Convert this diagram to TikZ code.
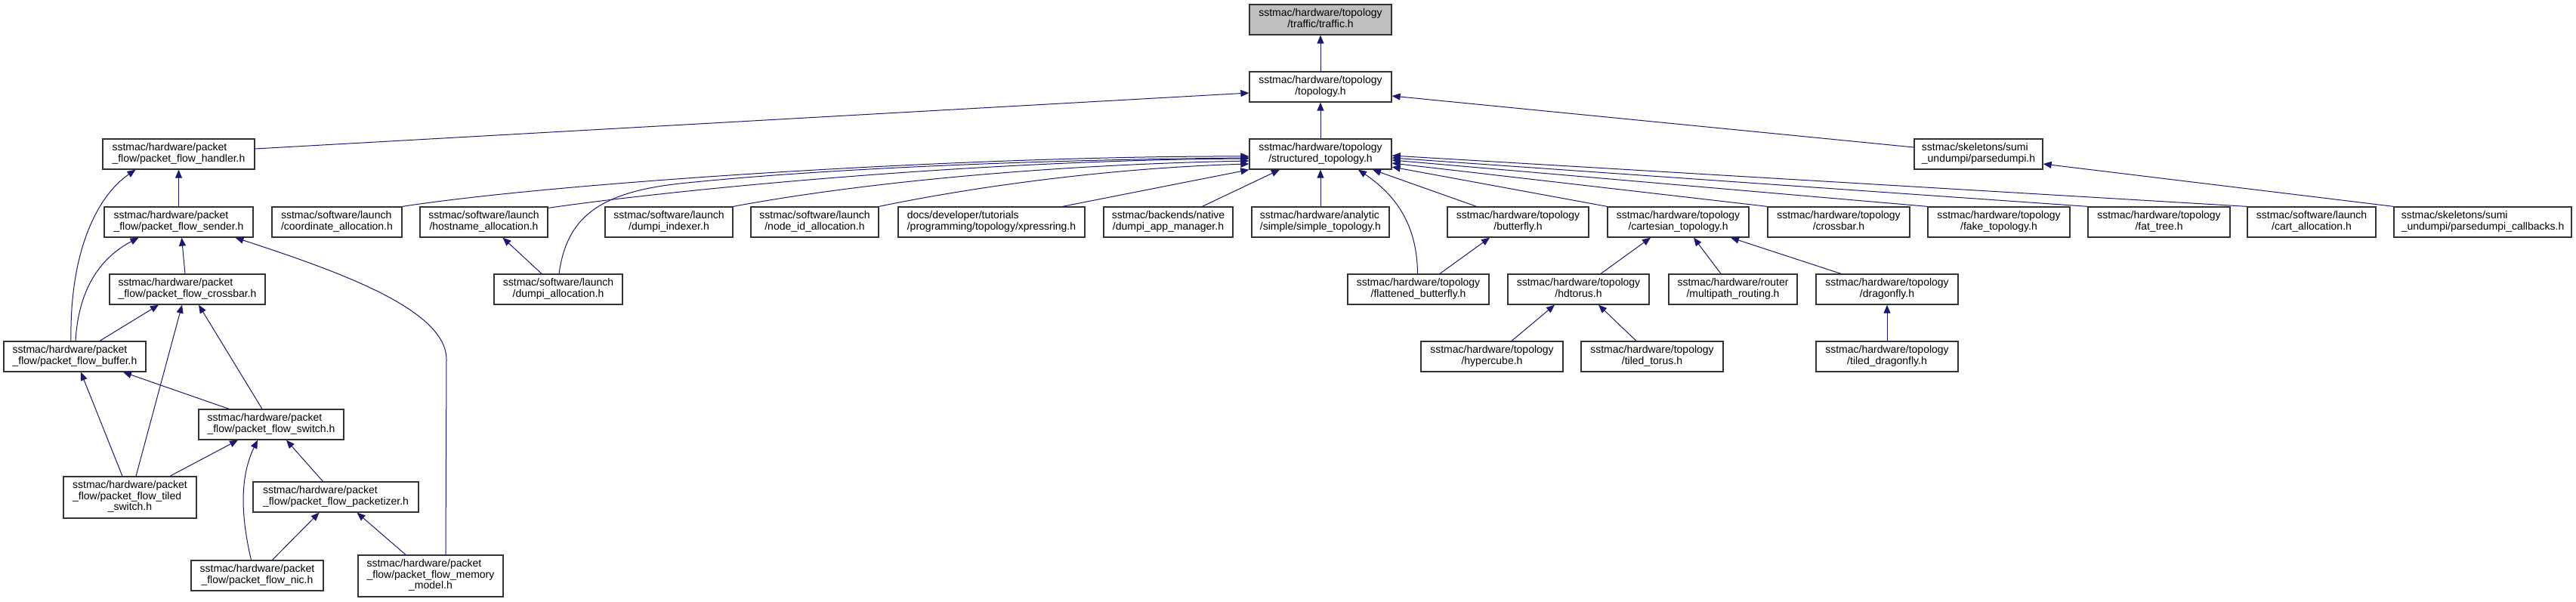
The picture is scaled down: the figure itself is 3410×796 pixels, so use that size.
\documentclass[tikz,border=0pt]{standalone}
\usepackage{fontspec}
\setmainfont{Liberation Sans}
\usepackage{tikz}
\usetikzlibrary{arrows.meta}
\definecolor{EdgeBlue}{HTML}{191970}
\definecolor{BoxLine}{HTML}{333333}
\definecolor{FocusGray}{HTML}{BFBFBF}
\newcommand{\twoline}[2]{\begin{tabular}{@{}l@{}}#1\\\multicolumn{1}{@{}c@{}}{#2}\end{tabular}}
\newcommand{\threeline}[3]{\begin{tabular}{@{}l@{}}#1\\#2\\\multicolumn{1}{@{}c@{}}{#3}\end{tabular}}

\begin{document}
\begin{tikzpicture}[x=1pt, y=-1pt,
  file/.style={draw=BoxLine, line width=1.3pt, fill=white, inner sep=0pt, minimum height=40,
    font=\fontsize{14}{14.5}\selectfont},
  inc/.style={draw=EdgeBlue, line width=1pt, -{Triangle[length=11pt,width=9pt]}}]
  \useasboundingbox (0,0) rectangle (3410,796);
  % top of the graph
  \node[file, fill=FocusGray, minimum width=188] (traffic) at (1748,26) {\twoline{sstmac/hardware/topology}{/traffic/traffic.h}};
  \node[file, minimum width=188] (topology) at (1748,115) {\twoline{sstmac/hardware/topology}{/topology.h}};
  \node[file, minimum width=188] (structured) at (1748,204) {\twoline{sstmac/hardware/topology}{/structured\_topology.h}};
  \node[file, minimum width=201] (handler) at (236.5,204) {\twoline{sstmac/hardware/packet}{\_flow/packet\_flow\_handler.h}};
  \node[file, minimum width=170] (parsedumpi) at (2619,204) {\twoline{sstmac/skeletons/sumi}{\_undumpi/parsedumpi.h}};
  % row 3
  \node[file, minimum width=197] (sender) at (236.5,294) {\twoline{sstmac/hardware/packet}{\_flow/packet\_flow\_sender.h}};
  \node[file, minimum width=172] (coordalloc) at (446,294) {\twoline{sstmac/software/launch}{/coordinate\_allocation.h}};
  \node[file, minimum width=169] (hostalloc) at (640.5,294) {\twoline{sstmac/software/launch}{/hostname\_allocation.h}};
  \node[file, minimum width=169] (indexer) at (885.5,294) {\twoline{sstmac/software/launch}{/dumpi\_indexer.h}};
  \node[file, minimum width=169] (nodeid) at (1078.5,294) {\twoline{sstmac/software/launch}{/node\_id\_allocation.h}};
  \node[file, minimum width=247] (xpressring) at (1312.5,294) {\twoline{docs/developer/tutorials}{/programming/topology/xpressring.h}};
  \node[file, minimum width=171] (appmanager) at (1546.5,294) {\twoline{sstmac/backends/native}{/dumpi\_app\_manager.h}};
  \node[file, minimum width=182] (simpletopo) at (1748,294) {\twoline{sstmac/hardware/analytic}{/simple/simple\_topology.h}};
  \node[file, minimum width=187] (butterfly) at (2009.5,294) {\twoline{sstmac/hardware/topology}{/butterfly.h}};
  \node[file, minimum width=187] (cartesian) at (2221.5,294) {\twoline{sstmac/hardware/topology}{/cartesian\_topology.h}};
  \node[file, minimum width=188] (crossbartopo) at (2434,294) {\twoline{sstmac/hardware/topology}{/crossbar.h}};
  \node[file, minimum width=188] (faketopo) at (2646,294) {\twoline{sstmac/hardware/topology}{/fake\_topology.h}};
  \node[file, minimum width=188] (fattree) at (2858,294) {\twoline{sstmac/hardware/topology}{/fat\_tree.h}};
  \node[file, minimum width=170] (cartalloc) at (3060,294) {\twoline{sstmac/software/launch}{/cart\_allocation.h}};
  \node[file, minimum width=235] (callbacks) at (3286.5,294) {\twoline{sstmac/skeletons/sumi}{\_undumpi/parsedumpi\_callbacks.h}};
  % row 4
  \node[file, minimum width=206] (pfcrossbar) at (248,383) {\twoline{sstmac/hardware/packet}{\_flow/packet\_flow\_crossbar.h}};
  \node[file, minimum width=170] (dumpialloc) at (739,383) {\twoline{sstmac/software/launch}{/dumpi\_allocation.h}};
  \node[file, minimum width=187] (flatbutterfly) at (1877.5,383) {\twoline{sstmac/hardware/topology}{/flattened\_butterfly.h}};
  \node[file, minimum width=187] (hdtorus) at (2089.5,383) {\twoline{sstmac/hardware/topology}{/hdtorus.h}};
  \node[file, minimum width=170] (multipath) at (2294,383) {\twoline{sstmac/hardware/router}{/multipath\_routing.h}};
  \node[file, minimum width=188] (dragonfly) at (2498,383) {\twoline{sstmac/hardware/topology}{/dragonfly.h}};
  % row 5
  \node[file, minimum width=188] (buffer) at (99,472) {\twoline{sstmac/hardware/packet}{\_flow/packet\_flow\_buffer.h}};
  \node[file, minimum width=188] (hypercube) at (1975,472) {\twoline{sstmac/hardware/topology}{/hypercube.h}};
  \node[file, minimum width=188] (tiledtorus) at (2187,472) {\twoline{sstmac/hardware/topology}{/tiled\_torus.h}};
  \node[file, minimum width=188] (tileddragonfly) at (2498,472) {\twoline{sstmac/hardware/topology}{/tiled\_dragonfly.h}};
  % packet flow, lower rows
  \node[file, minimum width=192] (switch) at (359,562) {\twoline{sstmac/hardware/packet}{\_flow/packet\_flow\_switch.h}};
  \node[file, minimum width=176, minimum height=55] (tiledswitch) at (172,658.5) {\threeline{sstmac/hardware/packet}{\_flow/packet\_flow\_tiled}{\_switch.h}};
  \node[file, minimum width=219] (packetizer) at (444.5,658) {\twoline{sstmac/hardware/packet}{\_flow/packet\_flow\_packetizer.h}};
  \node[file, minimum width=175] (nic) at (340.5,762) {\twoline{sstmac/hardware/packet}{\_flow/packet\_flow\_nic.h}};
  \node[file, minimum width=192, minimum height=55] (memorymodel) at (570,762.5) {\threeline{sstmac/hardware/packet}{\_flow/packet\_flow\_memory}{\_model.h}};

  % includes, child to parent
  \draw[inc] (topology) -- (traffic);
  \draw[inc] (structured) -- (topology);
  \draw[inc] ([yshift=7]handler.east) -- ([yshift=-8]topology.west);
  \draw[inc] ([yshift=9]parsedumpi.west) -- ([yshift=-12]topology.east);
  \draw[inc] (sender) -- (handler);
  \draw[inc] ([xshift=-5]buffer.north) .. controls (92,340) and (125,262) .. ([xshift=-57]handler.south);
  \draw[inc] ([xshift=1]buffer.north) .. controls (104,380) and (135,340) .. ([xshift=-53]sender.south);
  \draw[inc] ([xshift=-3]pfcrossbar.north) -- ([xshift=4]sender.south);
  \draw[inc] ([xshift=20]memorymodel.north) -- (591,476) .. controls (591,410) and (450,360) .. ([xshift=75]sender.south);
  \draw[inc] ([xshift=33]buffer.north) -- ([xshift=-38]pfcrossbar.south);
  \draw[inc] ([xshift=8]tiledswitch.north) -- ([xshift=-7]pfcrossbar.south);
  \draw[inc] ([xshift=-12]switch.north) -- ([xshift=15]pfcrossbar.south);
  \draw[inc] ([xshift=-10]tiledswitch.north) -- ([xshift=8]buffer.south);
  \draw[inc] ([xshift=-56]switch.north) -- ([xshift=64]buffer.south);
  \draw[inc] ([xshift=53]tiledswitch.north) -- ([xshift=-44]switch.south);
  \draw[inc] ([xshift=-8]nic.north) .. controls (318,680) and (318,630) .. ([xshift=-18]switch.south);
  \draw[inc] ([xshift=-17]packetizer.north) -- ([xshift=20]switch.south);
  \draw[inc] ([xshift=20]nic.north) -- ([xshift=-22]packetizer.south);
  \draw[inc] ([xshift=-33]memorymodel.north) -- ([xshift=28]packetizer.south);
  \draw[inc] ([xshift=-22]dumpialloc.north) -- ([xshift=25]hostalloc.south);
  \draw[inc] ([xshift=1]dumpialloc.north) .. controls (750,290) and (790,255) .. (900,243) .. controls (1100,222) and (1400,211) .. ([yshift=-5]structured.west);
  \draw[inc] (coordalloc.north east) .. controls (750,240) and (1300,206) .. ([yshift=-3]structured.west);
  \draw[inc] ([yshift=-2]hostalloc.north east) .. controls (900,250) and (1300,212) .. ([yshift=-6]structured.west);
  \draw[inc] (indexer.north east) .. controls (1150,240) and (1400,218) .. ([yshift=-9]structured.west);
  \draw[inc] (nodeid.north east) .. controls (1300,245) and (1480,222) .. ([yshift=-13]structured.west);
  \draw[inc] ([xshift=94]xpressring.north) -- (structured.south west);
  \draw[inc] ([xshift=45]appmanager.north) -- ([xshift=-54]structured.south);
  \draw[inc] (simpletopo) -- (structured);
  \draw[inc] ([xshift=-1]flatbutterfly.north) .. controls (1876,300) and (1850,260) .. ([xshift=50]structured.south);
  \draw[inc] ([xshift=-55]butterfly.north) -- ([xshift=69]structured.south);
  \draw[inc] (cartesian.north west) -- ([yshift=-17]structured.east);
  \draw[inc] (crossbartopo.north west) -- ([yshift=-12]structured.east);
  \draw[inc] (faketopo.north west) -- ([yshift=-8]structured.east);
  \draw[inc] (fattree.north west) -- ([yshift=-5]structured.east);
  \draw[inc] (cartalloc.north west) -- ([yshift=-2]structured.east);
  \draw[inc] (callbacks.north west) -- ([yshift=-13]parsedumpi.east);
  \draw[inc] ([xshift=28.5]flatbutterfly.north) -- ([xshift=-37.5]butterfly.south);
  \draw[inc] ([xshift=29.5]hdtorus.north) -- ([xshift=-36.5]cartesian.south);
  \draw[inc] ([xshift=-16]multipath.north) -- ([xshift=20.5]cartesian.south);
  \draw[inc] ([xshift=-61]dragonfly.north) -- ([xshift=69.5]cartesian.south);
  \draw[inc] ([xshift=26]hypercube.north) -- ([xshift=-31.5]hdtorus.south);
  \draw[inc] ([xshift=-21]tiledtorus.north) -- ([xshift=26.5]hdtorus.south);
  \draw[inc] (tileddragonfly) -- (dragonfly);
\end{tikzpicture}
\end{document}
